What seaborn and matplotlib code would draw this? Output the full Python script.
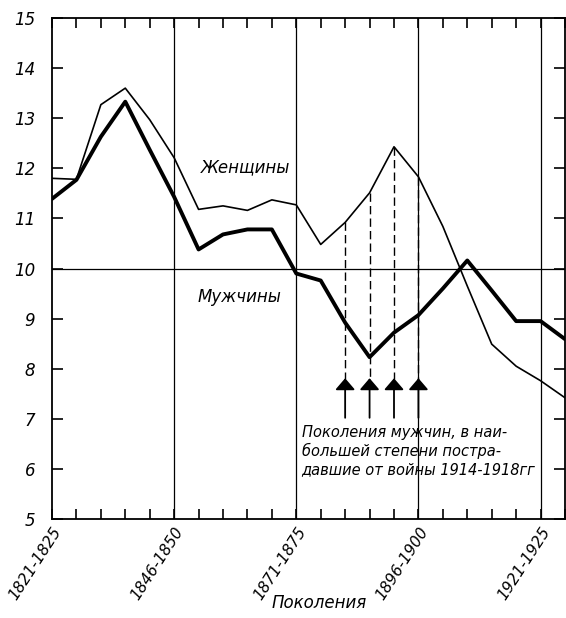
import matplotlib
matplotlib.use('Agg')
import matplotlib.pyplot as plt
import seaborn as sns
import pandas as pd

# поколения 1821-1825 ... 1926-1930
pokolenia = ['1821-1825', '1826-1830', '1831-1835', '1836-1840', '1841-1845',
             '1846-1850', '1851-1855', '1856-1860', '1861-1865', '1866-1870',
             '1871-1875', '1876-1880', '1881-1885', '1886-1890', '1891-1895',
             '1896-1900', '1901-1905', '1906-1910', '1911-1915', '1916-1920',
             '1921-1925', '1926-1930']
zhenshiny = [11.8, 11.78, 13.27, 13.6, 12.97, 12.21, 11.18, 11.25, 11.16, 11.37,
             11.27, 10.48, 10.92, 11.51, 12.43, 11.83, 10.84, 9.65, 8.49, 8.05,
             7.76, 7.42]
muzhchiny = [11.39, 11.77, 12.63, 13.33, 12.37, 11.43, 10.38, 10.68, 10.78, 10.78,
             9.9, 9.76, 8.92, 8.23, 8.72, 9.07, 9.6, 10.16, 9.56, 8.95,
             8.95, 8.59]
podpisi = ['1821-1825', '1846-1850', '1871-1875', '1896-1900', '1921-1925']
postradavshie = ['1881-1885', '1886-1890', '1891-1895', '1896-1900']

df = pd.DataFrame({
    'i': list(range(len(pokolenia))) * 2,
    'Значение': zhenshiny + muzhchiny,
    'Пол': ['Женщины'] * len(pokolenia) + ['Мужчины'] * len(pokolenia),
})

sns.set_style('ticks')
plt.rcParams['font.family'] = ['DejaVu Sans']
plt.rcParams['text.color'] = 'black'
plt.rcParams['axes.labelcolor'] = 'black'
plt.rcParams['xtick.color'] = 'black'
plt.rcParams['ytick.color'] = 'black'

fig = plt.figure(figsize=(5.66, 6.18), dpi=100)
ax = fig.add_axes([52 / 566, 1 - 519 / 618, 513 / 566, 501 / 618])

sns.lineplot(data=df, x='i', y='Значение', hue='Пол', size='Пол',
             palette={'Женщины': 'black', 'Мужчины': 'black'},
             sizes={'Женщины': 1.2, 'Мужчины': 2.8},
             legend=False, ax=ax)

ax.set_xlim(0, 20.9)
ax.set_ylim(5, 15)

# сетка
for k in range(5, 21, 5):
    ax.axvline(k, color='black', lw=0.9, zorder=0)
ax.axhline(10, color='black', lw=0.9, zorder=0)

for sp in ax.spines.values():
    sp.set_visible(True)
    sp.set_linewidth(1.3)
    sp.set_color('black')

ax.set_xticks([pokolenia.index(p) for p in podpisi])
ax.set_xticklabels(podpisi, rotation=57, ha='right', va='top',
                   rotation_mode='anchor', fontstyle='italic', fontsize=11)
ax.set_xticks(range(len(pokolenia)), minor=True)
ax.set_yticks(range(5, 16))
ax.set_yticklabels([str(v) for v in range(5, 16)], fontstyle='italic', fontsize=12)
ax.tick_params(axis='both', which='both', direction='in',
               top=True, right=True, width=1.2)
ax.tick_params(axis='x', which='both', length=7, pad=4)
ax.tick_params(axis='y', length=8, pad=12)

ax.set_xlabel('Поколения', fontstyle='italic', fontsize=12)
ax.xaxis.set_label_coords(0.52, -0.15)
ax.set_ylabel('')

ax.text(7.94, 12.03, 'Женщины', fontstyle='italic', fontsize=12,
        ha='center', va='center')
ax.text(7.66, 9.44, 'Мужчины', fontstyle='italic', fontsize=12,
        ha='center', va='center')

# стрелки к пострадавшим поколениям
for p in postradavshie:
    k = pokolenia.index(p)
    ax.plot([k, k], [zhenshiny[k], 7.8], color='black', lw=1.0,
            dashes=(6, 3), zorder=1)
    ax.annotate('', xy=(k, 7.81), xytext=(k, 7.02),
                arrowprops=dict(arrowstyle='-|>,head_width=0.6,head_length=0.7',
                                color='black', lw=1.3, shrinkA=0, shrinkB=0))

ax.text(10.22, 6.88,
        'Поколения мужчин, в наи-\nбольшей степени постра-\nдавшие от войны 1914-1918гг',
        fontstyle='italic', fontsize=10.5, ha='left', va='top', linespacing=1.25)

fig.savefig('out.png', dpi=100, facecolor='white')
